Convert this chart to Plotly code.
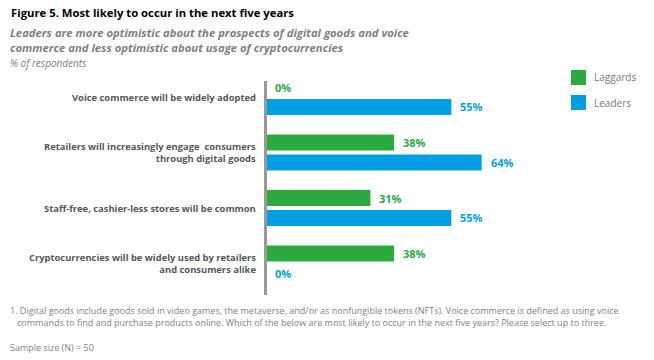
import plotly.graph_objects as go

categories = [
    "Voice commerce will be widely adopted",
    "Retailers will increasingly engage  consumers<br>through digital goods",
    "Staff-free, cashier-less stores will be common",
    "Cryptocurrencies will be widely used by retailers<br>and consumers alike",
]
cat_keys = ["voice", "retail", "staff", "crypto"]
laggards = [0, 38, 31, 38]
leaders = [55, 64, 55, 0]
series_names = ["Laggards", "Leaders"]
GREEN = "#2BAA3F"
BLUE = "#009FE3"
FONT = "Open Sans"

# page offset from the browser's default body margin
OFF = 8
W, H = 654 - OFF, 360 - OFF
L, R = 266 - OFF, 603 - OFF
T, B = 81 - OFF, 295 - OFF
PW, PH = R - L, B - T
UNIT = 55.5
C0 = 97.0 - OFF


def px_x(px):
    return (px - OFF - L) / PW


def px_y(py):
    return (B - (py - OFF)) / PH


fig = go.Figure()
fig.add_trace(go.Bar(y=cat_keys, x=laggards, orientation="h", name=series_names[0],
                     marker=dict(color=GREEN, line=dict(width=0)), showlegend=False, hoverinfo="skip"))
fig.add_trace(go.Bar(y=cat_keys, x=leaders, orientation="h", name=series_names[1],
                     marker=dict(color=BLUE, line=dict(width=0)), showlegend=False, hoverinfo="skip"))

annotations = []
for i, k in enumerate(cat_keys):
    for vals, col, off in ((laggards, GREEN, -0.18), (leaders, BLUE, 0.18)):
        annotations.append(dict(
            x=vals[i], y=i + off, xref="x", yref="y", text=f"<b>{vals[i]}%</b>",
            showarrow=False, xanchor="left", yanchor="middle", xshift=7,
            font=dict(family=FONT, size=11, color=col)))
for i, c in enumerate(categories):
    annotations.append(dict(
        x=0, y=i, xref="x", yref="y", text=f"<b>{c}</b>", showarrow=False,
        xanchor="right", yanchor="middle", xshift=-8, align="right",
        font=dict(family=FONT, size=9.4, color="#53565A")))


def txt(px, py, text, size, color, align="left"):
    return dict(x=px_x(px), y=px_y(py), xref="paper", yref="paper", text=text, showarrow=False,
                xanchor="left", yanchor="middle", align=align, font=dict(family=FONT, size=size, color=color))


annotations += [
    txt(9, 13, "<b>Figure 5. Most likely to occur in the next five years</b>", 11.3, "#000000"),
    txt(8, 40, "<b><i>Leaders are more optimistic about the prospects of digital goods and voice<br>commerce and less optimistic about usage of cryptocurrencies</i></b>", 11.3, "#7F7F7F"),
    txt(8, 63, "<i>% of respondents</i>", 10, "#7F7F7F"),
    txt(8, 316, "1. Digital goods include goods sold in video games, the metaverse, and/or as nonfungible tokens (NFTs). Voice commerce is defined as using voice<br>&nbsp;&nbsp;&nbsp;commands to find and purchase products online. Which of the below are most likely to occur in the next five years? Please select up to three.", 9, "#7F7F7F"),
    txt(8, 347, "Sample size (N) = 50", 9, "#7F7F7F"),
]

shapes = []
for nm, col, cy in ((series_names[0], GREEN, 77.5), (series_names[1], BLUE, 102.5)):
    shapes.append(dict(type="rect", xref="paper", yref="paper", x0=px_x(571), x1=px_x(586),
                       y0=px_y(cy + 7.5), y1=px_y(cy - 7.5), fillcolor=col, line=dict(width=0)))
    annotations.append(txt(592, cy, nm, 10, "#75787B"))

shapes.append(dict(type="rect", xref="paper", yref="paper", x0=px_x(265), x1=px_x(267),
                   y0=0, y1=1, fillcolor="#999999", line=dict(width=0), layer="above"))

y_top = (T - C0) / UNIT
y_bot = (len(cat_keys) - 1) + (B - (C0 + (len(cat_keys) - 1) * UNIT)) / UNIT

fig.update_layout(
    width=W, height=H, margin=dict(l=L, r=W - R, t=T, b=H - B),
    paper_bgcolor="white", plot_bgcolor="white",
    barmode="group", bargap=0.28, bargroupgap=0.2,
    xaxis=dict(range=[0, 100], visible=False, fixedrange=True),
    yaxis=dict(range=[y_bot, y_top], visible=True, showticklabels=False, ticks="",
               showgrid=False, zeroline=False, showline=True, linecolor="#999999", linewidth=1.5,
               fixedrange=True),
    annotations=annotations, shapes=shapes,
)

fig.write_html("out.html", config={"displayModeBar": False})
